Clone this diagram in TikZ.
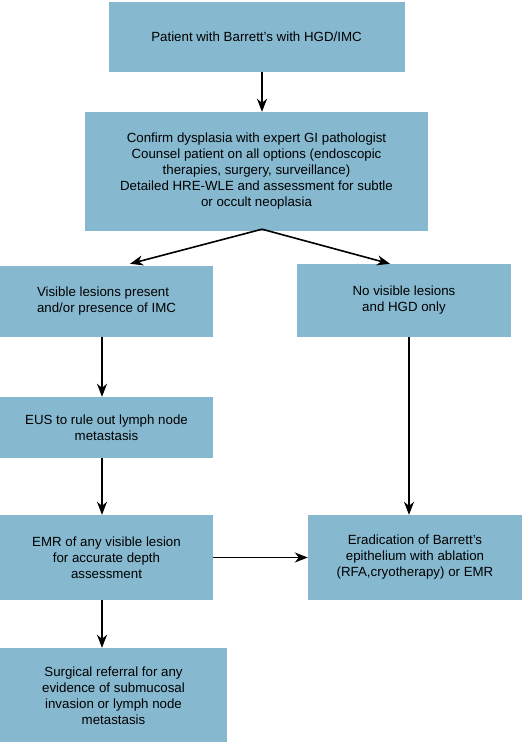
\documentclass[tikz,border=0pt]{standalone}
\usepackage{fontspec}
\setmainfont{Liberation Sans}
\usetikzlibrary{arrows.meta,calc}
\definecolor{boxblue}{RGB}{134,185,208}
\begin{document}
\begin{tikzpicture}[x=1pt,y=-1pt,
  box/.style={fill=boxblue,draw=none,inner sep=0pt,font=\fontsize{13.3}{16}\selectfont},
  conn/.style={line width=1.6pt,-{Stealth[length=13pt,width=10pt,inset=4pt]}}]
\useasboundingbox (0,0) rectangle (523,742);
\node[box,minimum width=296pt,minimum height=70pt,align=center] (b1) at (256.5,37) {Patient with Barrett's with HGD/IMC};
\node[box,minimum width=343pt,minimum height=119pt,align=center] (b2) at (256.5,171.5) {Confirm dysplasia with expert GI pathologist\\Counsel patient on all options (endoscopic\\therapies, surgery, surveillance)\\Detailed HRE-WLE and assessment for subtle\\or occult neoplasia};
\node[box,minimum width=213pt,minimum height=71pt,align=left] (b3l) at (106.5,301.5) {Visible lesions present\\and/or presence of IMC};
\node[box,minimum width=214pt,minimum height=73pt,align=center] (b3r) at (404,300.5) {No visible lesions\\and HGD only};
\node[box,minimum width=213pt,minimum height=61pt,align=center] (eus) at (106.5,427.5) {EUS to rule out lymph node\\metastasis};
\node[box,minimum width=213pt,minimum height=85pt,align=center] (emr) at (106.5,557.5) {EMR of any visible lesion\\for accurate depth\\assessment};
\node[box,minimum width=214pt,minimum height=85pt,align=center] (erad) at (415,557.5) {Eradication of Barrett's\\epithelium with ablation\\(RFA,cryotherapy) or EMR};
\node[box,minimum width=227pt,minimum height=96pt,align=center,text depth=0pt] (surg) at (113.5,696) {Surgical referral for any\\evidence of submucosal\\invasion or lymph node\\metastasis};
\draw[conn] ($(b1.south)+(5.5,0)$) -- ($(b2.north)+(5.5,0)$);
\draw[conn] ($(b2.south)+(5.5,-2)$) -- ($(b3l.north)+(23.5,-2)$);
\draw[conn] ($(b2.south)+(5.5,-2)$) -- ($(b3r.north)+(-14,0)$);
\draw[conn] ($(b3l.south)+(-4.5,0)$) -- ($(eus.north)+(-4.5,0)$);
\draw[conn] ($(eus.south)+(-4.5,0)$) -- ($(emr.north)+(-4.5,0)$);
\draw[conn] ($(emr.south)+(-4.5,0)$) -- ($(surg.north)+(-11.5,0)$);
\draw[conn] ($(b3r.south)+(5,0)$) -- ($(erad.north)+(-6,0)$);
\draw[conn] (emr.east) -- (erad.west);
\end{tikzpicture}
\end{document}
